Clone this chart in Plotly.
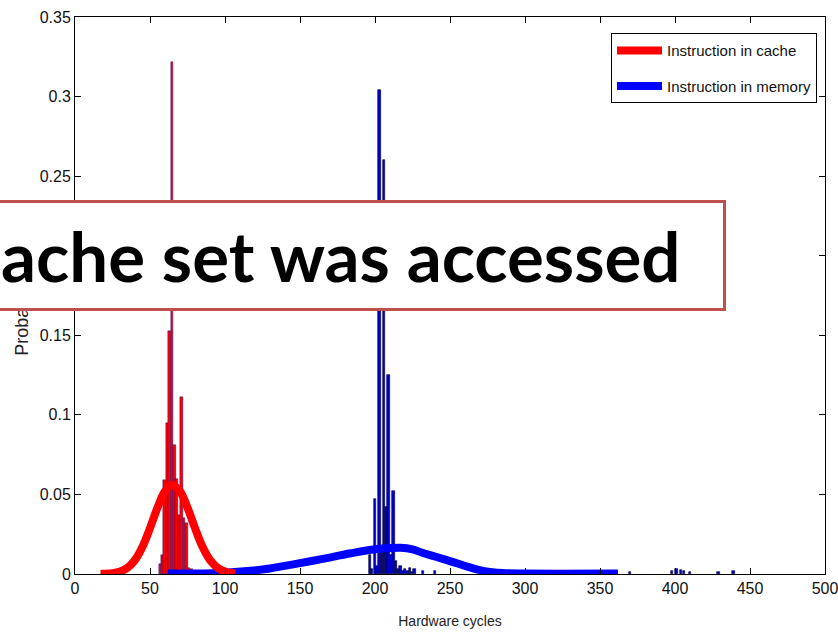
import plotly.graph_objects as go

# ---- data ----
cache_bins = [56.7, 58.3, 59.9, 61.5, 63.1, 64.7, 66.3, 67.9, 69.5, 71.1, 72.7, 74.3, 75.9, 77.5]
cache_prob = [0.006, 0.012, 0.059, 0.095, 0.153, 0.322, 0.081, 0.060, 0.037, 0.111, 0.035, 0.032, 0.004, 0.003]

mem_bins = [79.0, 196.6, 198.2, 199.8, 201.3, 202.9, 204.5, 206.0, 207.6, 209.1, 210.7, 212.3,
            213.8, 215.4, 217.0, 218.5, 220.1, 221.6, 223.2, 224.8, 226.3, 232.0, 240.0,
            370.0, 398.0, 401.0, 404.0, 406.0, 410.0, 429.0, 439.0]
mem_prob = [0.002, 0.012, 0.003, 0.047, 0.005, 0.304, 0.015, 0.260, 0.042, 0.125, 0.012, 0.052,
            0.008, 0.003, 0.005, 0.002, 0.003, 0.002, 0.004, 0.001, 0.003, 0.002, 0.002,
            0.0015, 0.002, 0.003, 0.0025, 0.002, 0.0015, 0.0015, 0.002]

cache_fit_x = [17, 25, 30, 35, 40, 45, 50, 55, 60, 65, 70, 75, 80, 85, 90, 95, 100, 107]
cache_fit_y = [0.0002, 0.0005, 0.0015, 0.0039, 0.0088, 0.0171, 0.0288, 0.0417, 0.052, 0.056,
               0.052, 0.0417, 0.0288, 0.0171, 0.0088, 0.0039, 0.0015, 0.0003]

mem_fit_x = [62, 80, 100, 117, 130, 150, 165, 184, 200, 210, 217, 225, 231, 240, 251, 262, 273, 285, 300, 362]
mem_fit_y = [0.0003, 0.0003, 0.0008, 0.002, 0.0035, 0.0068, 0.0095, 0.013, 0.0155, 0.0163,
             0.0165, 0.0155, 0.0135, 0.011, 0.0078, 0.0045, 0.0018, 0.0006, 0.0003, 0.0003]

x_ticks = [0, 50, 100, 150, 200, 250, 300, 350, 400, 450, 500]
y_ticks = [0, 0.05, 0.1, 0.15, 0.2, 0.25, 0.3, 0.35]
y_tick_text = ["0", "0.05", "0.1", "0.15", "0.2", "0.25", "0.3", "0.35"]

legend_names = ["Instruction in cache", "Instruction in memory"]
x_title = "Hardware cycles"
y_title = "Probability"
overlay_text = "ache set was accessed"

NARROW = "Liberation Sans Narrow, Liberation Sans, Arial, sans-serif"

fig = go.Figure()
fig.add_trace(go.Bar(x=cache_bins, y=cache_prob, width=1.9,
                     marker=dict(color="#ff0000", line=dict(color="#000080", width=0.4)),
                     showlegend=False, hoverinfo="skip"))
fig.add_trace(go.Bar(x=mem_bins, y=mem_prob, width=1.55,
                     marker=dict(color="#0000d0", line=dict(color="#000030", width=0.6)),
                     showlegend=False, hoverinfo="skip"))
fig.add_trace(go.Scatter(x=mem_fit_x, y=mem_fit_y, mode="lines", name=legend_names[1],
                         line=dict(color="#0000ff", width=8, shape="spline"),
                         legendgroup="m", legendrank=2))
fig.add_trace(go.Scatter(x=cache_fit_x, y=cache_fit_y, mode="lines", name=legend_names[0],
                         line=dict(color="#ff0000", width=8, shape="spline"),
                         legendgroup="c", legendrank=1))

axis_common = dict(showline=True, linecolor="black", linewidth=1, mirror="ticks",
                   ticks="inside", ticklen=6, tickcolor="black", showgrid=False,
                   zeroline=False, ticklabeloverflow="allow",
                   tickfont=dict(family=NARROW, size=16, color="#111"))

fig.update_xaxes(range=[0, 500], tickvals=x_ticks, **axis_common,
                 title=dict(text=x_title, font=dict(family=NARROW, size=14, color="#222"), standoff=19))
fig.update_yaxes(range=[0, 0.35], tickvals=y_ticks, ticktext=y_tick_text, **axis_common)

# y-axis label (partly hidden under the overlay box, as in the reference)
fig.add_annotation(text=y_title, xref="paper", yref="paper", x=-0.0707, y=0.467,
                   textangle=-90, showarrow=False, xanchor="center", yanchor="middle",
                   font=dict(family=NARROW, size=18, color="#222"))

# overlay callout box with its text (drawn after, so it covers the label)
fig.add_annotation(text=overlay_text, xref="paper", yref="paper", x=-0.1053, y=0.6715,
                   xanchor="left", yanchor="top", showarrow=False,
                   width=720, height=101, align="left", valign="middle",
                   bgcolor="white", bordercolor="#c0504d", borderwidth=3, borderpad=2,
                   font=dict(family="Lato, sans-serif", size=69, color="black", weight="bold"))

fig.update_layout(
    width=838, height=635,
    margin=dict(l=75, r=13, t=17, b=61, autoexpand=False),
    paper_bgcolor="white", plot_bgcolor="white",
    barmode="overlay", bargap=0,
    legend=dict(x=0.7147, y=0.971, xanchor="left", yanchor="top", bgcolor="white",
                bordercolor="black", borderwidth=1, itemwidth=45, tracegroupgap=13,
                font=dict(family=NARROW, size=15, color="#111")),
)

fig.write_html("out.html")
